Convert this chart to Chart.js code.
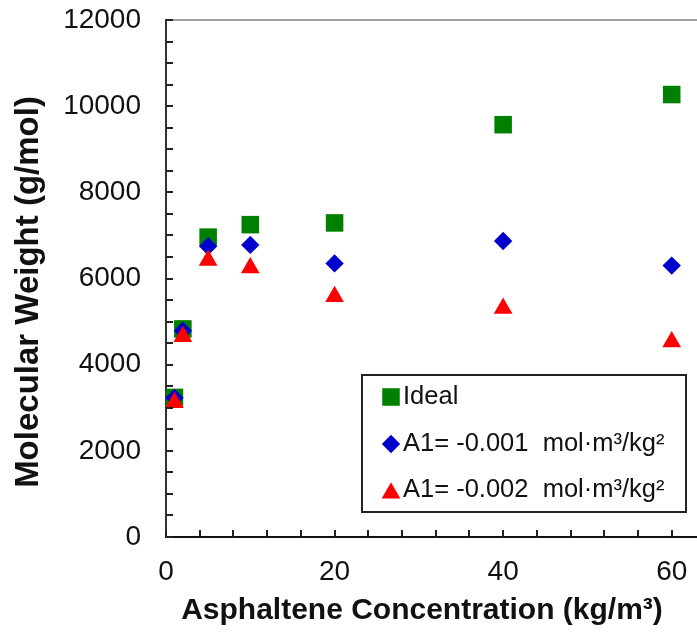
<!DOCTYPE html>
<html>
<head>
<meta charset="utf-8">
<script src="https://cdn.jsdelivr.net/npm/chart.js@4/dist/chart.umd.min.js"></script>
<style>
  html, body { margin: 0; padding: 0; background: #fff; overflow: hidden; }
  #wrap { position: relative; width: 697px; height: 633px; }
</style>
</head>
<body>
<div id="wrap"><canvas id="mwChart"></canvas></div>
<script>
// asphaltene concentration, kg/m3
const concentration = [1, 2, 5, 10, 20, 40, 60];
// molecular weight, g/mol
const idealMW = [3240, 4830, 6960, 7250, 7290, 9570, 10270];
const a1LowMW = [3230, 4790, 6750, 6780, 6350, 6870, 6300];
const a1HighMW = [3120, 4650, 6420, 6250, 5580, 5310, 4530];

const seriesLabels = ["Ideal", "A1= -0.001  mol\u00b7m\u00b3/kg\u00b2", "A1= -0.002  mol\u00b7m\u00b3/kg\u00b2"];
const xTickValues = [0, 20, 40, 60];
const yTickValues = [0, 2000, 4000, 6000, 8000, 10000, 12000];
const xTitle = "Asphaltene Concentration (kg/m\u00b3)";
const yTitle = "Molecular Weight (g/mol)";

const TEXT = "#111";
const FONT = "'Liberation Sans', Arial, sans-serif";
const toPoints = ys => concentration.map((x, i) => ({x: x, y: ys[i]}));

// frame top line plus small inward tick marks on the left and bottom axes
const innerTicks = {
    id: "innerTicks",
    afterDraw(chart) {
        const {ctx, chartArea, scales} = chart;
        ctx.save();
        ctx.strokeStyle = "#a0a0a0";
        ctx.lineWidth = 2;
        ctx.beginPath();
        ctx.moveTo(chartArea.left, chartArea.top);
        ctx.lineTo(chart.width, chartArea.top);
        ctx.stroke();

        ctx.strokeStyle = "#222";
        ctx.beginPath();
        for (let v = 0; v <= 12000; v += 500) {
            const y = Math.round(scales.y.getPixelForValue(v));
            ctx.moveTo(chartArea.left, y);
            ctx.lineTo(chartArea.left + 7, y);
        }
        for (let v = 0; v <= scales.x.max; v += 4) {
            const x = Math.round(scales.x.getPixelForValue(v));
            ctx.moveTo(x, chartArea.bottom);
            ctx.lineTo(x, chartArea.bottom - 7);
        }
        ctx.stroke();
        ctx.restore();
    }
};

// axis titles
const axisTitles = {
    id: "axisTitles",
    afterDraw(chart) {
        const ctx = chart.ctx;
        ctx.save();
        ctx.fillStyle = TEXT;
        ctx.textAlign = "center";
        ctx.textBaseline = "middle";
        ctx.font = "bold 30px " + FONT;
        ctx.fillText(xTitle, 422, 611);
        ctx.translate(29, 292);
        ctx.rotate(-Math.PI / 2);
        ctx.font = "bold 33px " + FONT;
        ctx.fillText(yTitle, 0, 0);
        ctx.restore();
    }
};

// boxed legend inside the plot, lower right
const boxLegend = {
    id: "boxLegend",
    afterDraw(chart) {
        const {ctx, chartArea} = chart;
        const left = chartArea.left + 196, top = chartArea.top + 355;
        const w = 324, h = 137;
        const rows = [377, 424, 470];
        ctx.save();
        ctx.fillStyle = "#fff";
        ctx.fillRect(left, top, w, h);
        ctx.strokeStyle = "#222";
        ctx.lineWidth = 2;
        ctx.strokeRect(left, top, w, h);
        ctx.font = "25.5px " + FONT;
        ctx.textBaseline = "middle";
        chart.data.datasets.forEach((ds, i) => {
            const cy = chartArea.top + rows[i];
            ctx.fillStyle = ds.pointBackgroundColor;
            Chart.helpers.drawPoint(ctx, {
                pointStyle: ds.pointStyle,
                radius: ds.pointRadius,
                rotation: 0,
                borderWidth: 0
            }, left + 29, cy + (ds.pointStyle === "triangle" ? 3 : 0));
            ctx.fillStyle = TEXT;
            ctx.fillText(ds.label, left + 41, cy);
        });
        ctx.restore();
    }
};

new Chart(document.getElementById("mwChart"), {
    type: "scatter",
    data: {
        datasets: [
            {
                label: seriesLabels[0],
                data: toPoints(idealMW),
                pointStyle: "rect",
                pointRadius: 12.4,
                pointBackgroundColor: "#008000",
                pointBorderWidth: 0,
                order: 2
            },
            {
                label: seriesLabels[1],
                data: toPoints(a1LowMW),
                pointStyle: "rectRot",
                pointRadius: 9.2,
                pointBackgroundColor: "#0000cc",
                pointBorderWidth: 0,
                order: 1
            },
            {
                label: seriesLabels[2],
                data: toPoints(a1HighMW),
                pointStyle: "triangle",
                pointRadius: 10.8,
                pointBackgroundColor: "#ff0000",
                pointBorderWidth: 0,
                order: 0
            }
        ]
    },
    options: {
        responsive: true,
        maintainAspectRatio: false,
        animation: false,
        layout: {
            autoPadding: false,
            padding: { top: 20, right: 0, left: 0, bottom: 0 }
        },
        plugins: {
            legend: { display: false },
            tooltip: { enabled: false }
        },
        scales: {
            x: {
                type: "linear",
                position: "bottom",
                min: 0,
                max: 63,
                afterBuildTicks: s => { s.ticks = xTickValues.map(v => ({value: v})); },
                afterFit: s => {
                    s.height = 96;
                    s.paddingLeft = 0;
                    s.paddingRight = 0;
                },
                grid: { display: false, drawTicks: false },
                border: { display: true, color: "#111", width: 2 },
                ticks: {
                    color: TEXT,
                    padding: 18,
                    maxRotation: 0,
                    font: { family: FONT, size: 28 }
                }
            },
            y: {
                position: "left",
                min: 0,
                max: 12000,
                afterBuildTicks: s => { s.ticks = yTickValues.map(v => ({value: v})); },
                afterFit: s => {
                    s.width = 166;
                    s.paddingTop = 0;
                    s.paddingBottom = 0;
                },
                grid: { display: false, drawTicks: false },
                border: { display: true, color: "#333", width: 2 },
                ticks: {
                    color: TEXT,
                    padding: 25,
                    callback: v => String(v),
                    font: { family: FONT, size: 28 }
                }
            }
        }
    },
    plugins: [innerTicks, axisTitles, boxLegend]
});
</script>
</body>
</html>
